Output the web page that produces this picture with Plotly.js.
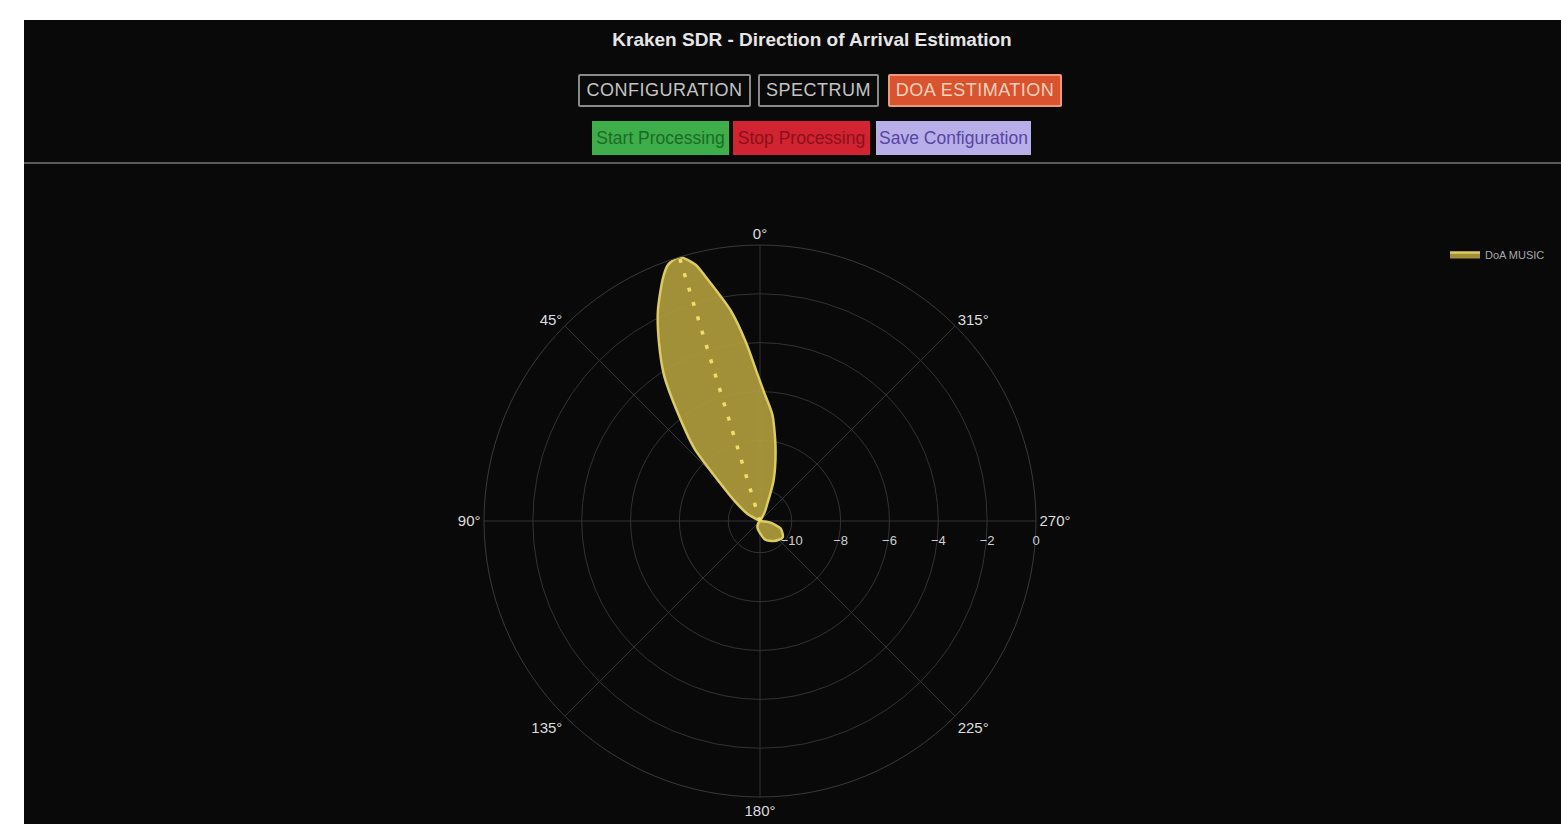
<!DOCTYPE html>
<html>
<head>
<meta charset="utf-8">
<script src="https://cdn.plot.ly/plotly-3.0.1.min.js"></script>
<style>
  html, body { margin: 0; padding: 0; width: 1561px; height: 824px; overflow: hidden; background: #ffffff; font-family: "Liberation Sans", Arial, sans-serif; }
  #page { position: absolute; left: 24px; top: 20px; width: 1537px; height: 804px; background: #090909; overflow: hidden; }
  #title { position: absolute; left: 0; width: 1576px; top: 9px; text-align: center; color: #e6e6e6; font-weight: bold; font-size: 19px; line-height: 22px; }
  .btn { position: absolute; box-sizing: border-box; text-align: center; white-space: nowrap; }
  .tab { border: 2px solid #8a8a8a; color: #c4c4c4; background: #090909; border-radius: 2px; font-size: 18px; letter-spacing: 0.5px; }
  .act { font-size: 17.5px; }
  #sep { position: absolute; left: 0; top: 142px; width: 1537px; height: 2px; background: #5a5a5a; }
  #plot { position: absolute; left: 0; top: 145px; width: 1700px; height: 659px; }
</style>
</head>
<body>
<div id="page">
  <div id="title">Kraken SDR - Direction of Arrival Estimation</div>
  <div class="btn tab" style="left:554px; top:54px; width:173px; height:33px; line-height:29px;">CONFIGURATION</div>
  <div class="btn tab" style="left:734px; top:54px; width:121px; height:33px; line-height:29px;">SPECTRUM</div>
  <div class="btn tab" style="left:864px; top:54px; width:174px; height:33px; line-height:29px; background:#d9532e; border-color:#ee9a78; color:#ffd2bd;">DOA ESTIMATION</div>
  <div class="btn act" style="left:568px; top:101px; width:137px; height:34px; line-height:34px; background:#3dae49; color:#1c6a27;">Start Processing</div>
  <div class="btn act" style="left:709px; top:101px; width:137px; height:34px; line-height:34px; background:#d12331; color:#8c1019;">Stop Processing</div>
  <div class="btn act" style="left:852px; top:101px; width:155px; height:34px; line-height:34px; background:#b8afe9; color:#5645a3;">Save Configuration</div>
  <div id="sep"></div>
  <div id="plot"></div>
</div>
<script>
// DOA pattern (angle in degrees, amplitude in dB)
const thetaDeg = [0.8, 4.4, 7.9, 12.5, 14.1, 17, 19.7, 21.7, 25.9, 29.6, 33.4, 37.5, 42.1, 46.0, 52, 60, 67, 90, 120, 140, 160, 180, 196, 215, 234, 250, 262, 275, 300, 325, 332, 338, 341.4, 347.9, 353.3, 357.6];
const ampDb    = [-5.35, -4.0, -2.61, -1.08, -0.48, 0, -0.15, -0.57, -1.73, -2.93, -4.17, -5.83, -7.29, -8.93, -10.0, -10.7, -11.3, -11.3, -11.3, -11.2, -11.0, -10.8, -10.5, -10.3, -10.15, -10.4, -10.9, -11.3, -11.3, -11.3, -10.9, -10.4, -9.56, -8.26, -6.93, -6.15];
const doaAngle = [17, 17];
const doaLine  = [-11.3, 0];
const traceName = "DoA MUSIC";
const radialTicks = [-10, -8, -6, -4, -2, 0];
const radialRange = [-11.3, 0];

const pattern = {
  type: 'scatterpolar',
  theta: thetaDeg.concat([thetaDeg[0]]),
  r: ampDb.concat([ampDb[0]]),
  mode: 'lines',
  fill: 'toself',
  name: traceName,
  line: { color: '#dccb60', width: 2.5, shape: 'spline', smoothing: 0.7 },
  fillcolor: 'rgba(174,155,60,0.93)'
};
const marker = {
  type: 'scatterpolar',
  theta: doaAngle,
  r: doaLine,
  mode: 'lines',
  showlegend: false,
  line: { color: '#efdc6c', width: 3.5, dash: '4px,11px' }
};

const W = 1700, H = 659;
const cx = 736, cy = 356, R = 276;
const layout = {
  width: W, height: H,
  margin: { l: 0, r: 0, t: 0, b: 0 },
  paper_bgcolor: '#090909',
  font: { family: 'Liberation Sans, Arial, sans-serif', color: '#d8d8d8', size: 12 },
  showlegend: true,
  legend: { x: 1421 / W, y: 1 - 75 / H, xanchor: 'left', yanchor: 'top', bgcolor: 'rgba(0,0,0,0)', font: { color: '#a8a8a8', size: 11 } },
  polar: {
    domain: { x: [(cx - R) / W, (cx + R) / W], y: [(H - cy - R) / H, (H - cy + R) / H] },
    bgcolor: '#090909',
    angularaxis: {
      rotation: 90, direction: 'counterclockwise', dtick: 45,
      gridcolor: '#333333', linecolor: '#3a3a3a', showline: true,
      ticks: '', tickfont: { color: '#dddddd', size: 15 }
    },
    radialaxis: {
      range: radialRange, tickvals: radialTicks, angle: 0, side: 'clockwise',
      gridcolor: '#333333', showline: false, ticks: 'outside', ticklen: 8, tickcolor: 'rgba(0,0,0,0)',
      tickfont: { color: '#d0d0d0', size: 13 }
    }
  }
};
Plotly.newPlot('plot', [pattern, marker], layout, { displayModeBar: false, staticPlot: true });
</script>
</body>
</html>
